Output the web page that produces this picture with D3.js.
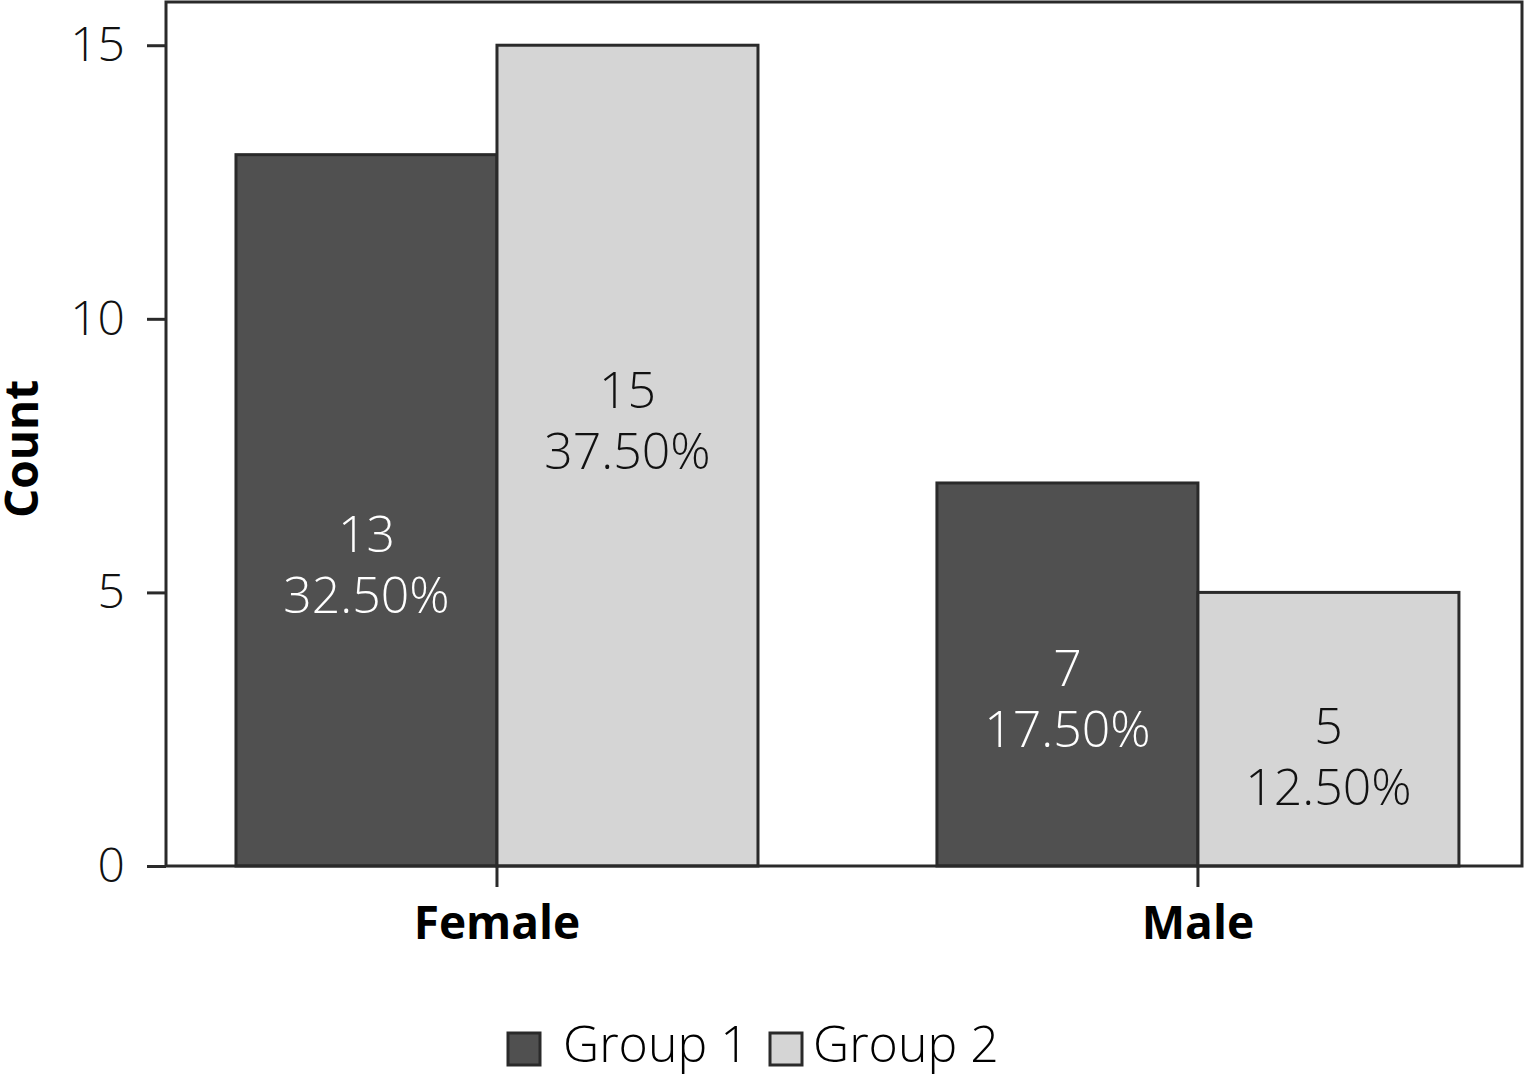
<!DOCTYPE html>
<html>
<head>
<meta charset="utf-8">
<script src="https://cdn.jsdelivr.net/npm/d3@7"></script>
<style>
  body { margin: 0; background: #fff; }
  text { font-family: "Open Sans", sans-serif; }
</style>
</head>
<body>
<div id="chart"></div>
<script>
// categories and series
const categories = ["Female", "Male"];
const groups = ["Group 1", "Group 2"];
const group1Counts = [13, 7];
const group2Counts = [15, 5];
const group1Pct = ["32.50%", "17.50%"];
const group2Pct = ["37.50%", "12.50%"];
// where the label blocks sit, in count units
const group1LabelAt = [5.54, 3.09];
const group2LabelAt = [8.17, 2.03];
const yTicks = [0, 5, 10, 15];

const colors = { "Group 1": "#505050", "Group 2": "#d5d5d5" };
const textColors = { "Group 1": "#ffffff", "Group 2": "#111111" };

const svgWidth = 1526, svgHeight = 1076;
const margin = { top: 2, right: 4, bottom: 210, left: 166 };
const width = svgWidth - margin.left - margin.right;
const height = svgHeight - margin.top - margin.bottom;

const svg = d3.select("#chart").append("svg")
    .attr("width", svgWidth)
    .attr("height", svgHeight);

const g = svg.append("g")
    .attr("transform", `translate(${margin.left},${margin.top})`);

const bars = [];
categories.forEach((c, i) => {
    bars.push({ cat: c, group: "Group 1", count: group1Counts[i], pct: group1Pct[i], at: group1LabelAt[i] });
    bars.push({ cat: c, group: "Group 2", count: group2Counts[i], pct: group2Pct[i], at: group2LabelAt[i] });
});

const x0 = d3.scaleBand()
    .domain(categories)
    .range([0, width])
    .paddingInner(0.2553)
    .paddingOuter(0.0949)
    .align(0.526);

const x1 = d3.scaleBand()
    .domain(groups)
    .range([0, x0.bandwidth()]);

const y = d3.scaleLinear()
    .domain([0, 15.79])
    .range([height, 0]);

// bars
g.selectAll(".bar")
    .data(bars)
    .join("rect")
    .attr("class", "bar")
    .attr("x", d => x0(d.cat) + x1(d.group))
    .attr("y", d => y(d.count))
    .attr("width", x1.bandwidth())
    .attr("height", d => height - y(d.count))
    .attr("fill", d => colors[d.group])
    .attr("stroke", "#2a2a2a")
    .attr("stroke-width", 3);

// labels inside bars
const lbl = g.selectAll(".lbl")
    .data(bars)
    .join("text")
    .attr("class", "lbl")
    .attr("text-anchor", "middle")
    .attr("font-size", 50)
    .attr("font-weight", 300)
    .attr("fill", d => textColors[d.group])
    .attr("transform", d => `translate(${x0(d.cat) + x1(d.group) + x1.bandwidth() / 2},${y(d.at)})`);
lbl.append("tspan").attr("x", 0).attr("dy", "-0.22em").text(d => d.count);
lbl.append("tspan").attr("x", 0).attr("dy", "1.22em").text(d => d.pct);

// frame
g.append("rect")
    .attr("x", 0).attr("y", 0)
    .attr("width", width).attr("height", height)
    .attr("fill", "none")
    .attr("stroke", "#2a2a2a")
    .attr("stroke-width", 3);

// y axis
const yAxis = g.append("g")
    .call(d3.axisLeft(y).tickValues(yTicks).tickSize(19).tickPadding(22));
yAxis.select(".domain").remove();
yAxis.selectAll("line").attr("stroke", "#2a2a2a").attr("stroke-width", 3);
yAxis.selectAll("text")
    .attr("font-size", 48)
    .attr("font-weight", 300)
    .attr("fill", "#111")
    .attr("font-family", "Open Sans, sans-serif");

// x axis
const xAxis = g.append("g")
    .attr("transform", `translate(0,${height})`)
    .call(d3.axisBottom(x0).tickSize(21).tickPadding(19));
xAxis.select(".domain").remove();
xAxis.selectAll("line").attr("stroke", "#2a2a2a").attr("stroke-width", 3);
xAxis.selectAll("text")
    .attr("font-size", 46)
    .attr("font-weight", 700)
    .attr("fill", "#000")
    .attr("font-family", "Open Sans, sans-serif");

// y title
svg.append("text")
    .attr("transform", "translate(38,449) rotate(-90)")
    .attr("text-anchor", "middle")
    .attr("font-size", 46)
    .attr("font-weight", 700)
    .text("Count");

// legend
const legend = svg.append("g").attr("transform", "translate(508,1033)");
const legendX = [0, 262];
groups.forEach((grp, i) => {
    const item = legend.append("g").attr("transform", `translate(${legendX[i]},0)`);
    item.append("rect")
        .attr("width", 32).attr("height", 32)
        .attr("fill", colors[grp])
        .attr("stroke", "#2a2a2a")
        .attr("stroke-width", 3);
    item.append("text")
        .attr("x", i === 0 ? 55 : 43)
        .attr("y", 29)
        .attr("font-size", 50)
        .attr("font-weight", 300)
        .text(grp);
});
</script>
</body>
</html>
